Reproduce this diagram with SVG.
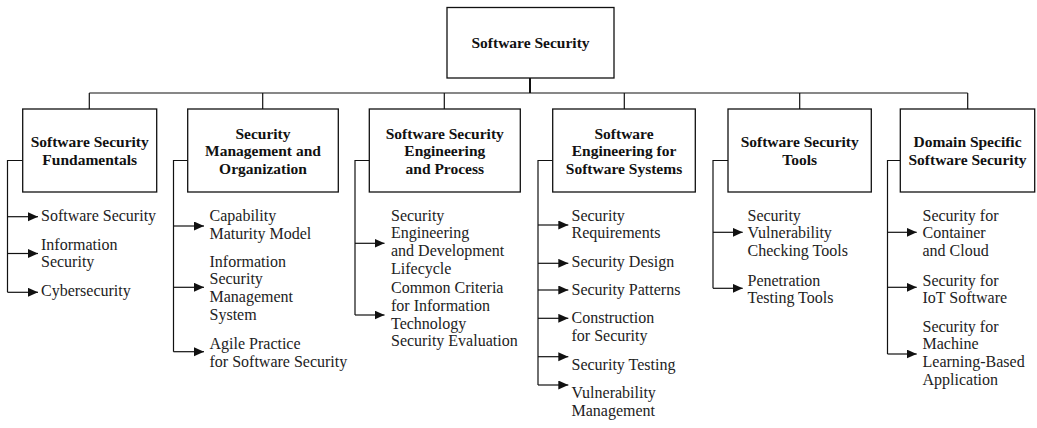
<svg xmlns="http://www.w3.org/2000/svg" width="1037" height="428" viewBox="0 0 1037 428">
  <style>
    .box { fill: #ffffff; stroke: #111; stroke-width: 1.3; }
    .hd { font-family: "Liberation Serif", "Times New Roman", serif; font-weight: bold; font-size: 15.5px; fill: #111; text-anchor: middle; }
    .it { font-family: "Liberation Serif", "Times New Roman", serif; font-size: 16px; fill: #222; }
    .ln { fill: none; stroke: #111; stroke-width: 1.2; }
    .ar { fill: none; stroke: #111; stroke-width: 1.2; marker-end: url(#arr); }
  </style>
  <defs>
    <marker id="arr" markerUnits="userSpaceOnUse" markerWidth="11" markerHeight="10" refX="10" refY="4.5" orient="auto">
      <path d="M0,0 L10,4.5 L0,9 Z" fill="#111"/>
    </marker>
  </defs>
  <rect width="1037" height="428" fill="#ffffff"/>

  <g id="connectors">
    <line x1="530" y1="78" x2="530" y2="93" class="ln" style="stroke-width:2"/>
    <line x1="89.3" y1="93" x2="967.7" y2="93" class="ln"/>
    <line x1="89.3" y1="93" x2="89.3" y2="109" class="ln"/>
    <line x1="262.7" y1="93" x2="262.7" y2="109" class="ln"/>
    <line x1="444.3" y1="93" x2="444.3" y2="109" class="ln"/>
    <line x1="624.3" y1="93" x2="624.3" y2="109" class="ln"/>
    <line x1="799.7" y1="93" x2="799.7" y2="109" class="ln"/>
    <line x1="967.7" y1="93" x2="967.7" y2="109" class="ln"/>

    <!-- column 1 -->
    <polyline points="22.7,160.5 7.5,160.5 7.5,292.3" class="ln"/>
    <line x1="7.5" y1="216.7" x2="38" y2="216.7" class="ar"/>
    <line x1="7.5" y1="253.5" x2="38" y2="253.5" class="ar"/>
    <line x1="7.5" y1="292.3" x2="38" y2="292.3" class="ar"/>

    <!-- column 2 -->
    <polyline points="187.7,160.5 173.5,160.5 173.5,351.7" class="ln"/>
    <line x1="173.5" y1="226" x2="204" y2="226" class="ar"/>
    <line x1="173.5" y1="287.3" x2="204" y2="287.3" class="ar"/>
    <line x1="173.5" y1="351.7" x2="204" y2="351.7" class="ar"/>

    <!-- column 3 -->
    <polyline points="369.3,160.5 355,160.5 355,315" class="ln"/>
    <line x1="355" y1="243.3" x2="384.5" y2="243.3" class="ar"/>
    <line x1="355" y1="315" x2="384.5" y2="315" class="ar"/>

    <!-- column 4 -->
    <polyline points="552.7,160.5 538,160.5 538,385" class="ln"/>
    <line x1="538" y1="225" x2="568.3" y2="225" class="ar"/>
    <line x1="538" y1="263.3" x2="568.3" y2="263.3" class="ar"/>
    <line x1="538" y1="290" x2="568.3" y2="290" class="ar"/>
    <line x1="538" y1="318.3" x2="568.3" y2="318.3" class="ar"/>
    <line x1="538" y1="356.7" x2="568.3" y2="356.7" class="ar"/>
    <line x1="538" y1="385" x2="568.3" y2="385" class="ar"/>

    <!-- column 5 -->
    <polyline points="728,160.5 713,160.5 713,288.3" class="ln"/>
    <line x1="713" y1="232.3" x2="742.7" y2="232.3" class="ar"/>
    <line x1="713" y1="288.3" x2="742.7" y2="288.3" class="ar"/>

    <!-- column 6 -->
    <polyline points="900.3,160.5 887.5,160.5 887.5,354" class="ln"/>
    <line x1="887.5" y1="232.3" x2="916.7" y2="232.3" class="ar"/>
    <line x1="887.5" y1="287.3" x2="916.7" y2="287.3" class="ar"/>
    <line x1="887.5" y1="354" x2="916.7" y2="354" class="ar"/>
  </g>

  <g id="root">
    <rect x="447" y="7.5" width="167" height="70.5" class="box"/>
    <text x="530.5" y="47.5" class="hd">Software Security</text>
  </g>

  <g id="fundamentals">
    <rect x="22.7" y="109" width="134" height="83" class="box"/>
    <text class="hd"><tspan x="89.7" y="147.3">Software Security</tspan><tspan x="89.7" y="164.8">Fundamentals</tspan></text>
  </g>
  <g id="fundamentals-items">
    <text class="it" x="41" y="221">Software Security</text>
    <text class="it"><tspan x="41" y="249.5">Information</tspan><tspan x="41" y="267.2">Security</tspan></text>
    <text class="it" x="41" y="296">Cybersecurity</text>
  </g>

  <g id="management">
    <rect x="187.7" y="109" width="150.6" height="83" class="box"/>
    <text class="hd"><tspan x="263" y="138.5">Security</tspan><tspan x="263" y="156">Management and</tspan><tspan x="263" y="173.5">Organization</tspan></text>
  </g>
  <g id="management-items">
    <text class="it"><tspan x="209.5" y="220.7">Capability</tspan><tspan x="209.5" y="238.5">Maturity Model</tspan></text>
    <text class="it"><tspan x="209.5" y="266.7">Information</tspan><tspan x="209.5" y="284.4">Security</tspan><tspan x="209.5" y="302.1">Management</tspan><tspan x="209.5" y="319.8">System</tspan></text>
    <text class="it"><tspan x="209.5" y="349.3">Agile Practice</tspan><tspan x="209.5" y="367">for Software Security</tspan></text>
  </g>

  <g id="engineering-process">
    <rect x="369.3" y="109" width="151" height="83" class="box"/>
    <text class="hd"><tspan x="444.8" y="138.5">Software Security</tspan><tspan x="444.8" y="156">Engineering</tspan><tspan x="444.8" y="173.5">and Process</tspan></text>
  </g>
  <g id="engineering-process-items">
    <text class="it"><tspan x="391" y="220.7">Security</tspan><tspan x="391" y="238.4">Engineering</tspan><tspan x="391" y="256.1">and Development</tspan><tspan x="391" y="273.8">Lifecycle</tspan></text>
    <text class="it"><tspan x="391" y="293.3">Common Criteria</tspan><tspan x="391" y="311">for Information</tspan><tspan x="391" y="328.7">Technology</tspan><tspan x="391" y="346.4">Security Evaluation</tspan></text>
  </g>

  <g id="software-systems">
    <rect x="552.7" y="109" width="142.6" height="83" class="box"/>
    <text class="hd"><tspan x="624" y="138.5">Software</tspan><tspan x="624" y="156">Engineering for</tspan><tspan x="624" y="173.5">Software Systems</tspan></text>
  </g>
  <g id="software-systems-items">
    <text class="it"><tspan x="571.5" y="220.5">Security</tspan><tspan x="571.5" y="238.2">Requirements</tspan></text>
    <text class="it" x="571.5" y="266.7">Security Design</text>
    <text class="it" x="571.5" y="295">Security Patterns</text>
    <text class="it"><tspan x="571.5" y="323.3">Construction</tspan><tspan x="571.5" y="341">for Security</tspan></text>
    <text class="it" x="571.5" y="370">Security Testing</text>
    <text class="it"><tspan x="571.5" y="398.3">Vulnerability</tspan><tspan x="571.5" y="416">Management</tspan></text>
  </g>

  <g id="tools">
    <rect x="728" y="109" width="143.3" height="83" class="box"/>
    <text class="hd"><tspan x="799.7" y="147.3">Software Security</tspan><tspan x="799.7" y="164.8">Tools</tspan></text>
  </g>
  <g id="tools-items">
    <text class="it"><tspan x="747.5" y="220.7">Security</tspan><tspan x="747.5" y="238.4">Vulnerability</tspan><tspan x="747.5" y="256.1">Checking Tools</tspan></text>
    <text class="it"><tspan x="747.5" y="285.7">Penetration</tspan><tspan x="747.5" y="303.4">Testing Tools</tspan></text>
  </g>

  <g id="domain-specific">
    <rect x="900.3" y="109" width="134.4" height="83" class="box"/>
    <text class="hd"><tspan x="967.5" y="147.3">Domain Specific</tspan><tspan x="967.5" y="164.8">Software Security</tspan></text>
  </g>
  <g id="domain-specific-items">
    <text class="it"><tspan x="922.5" y="220.7">Security for</tspan><tspan x="922.5" y="238.4">Container</tspan><tspan x="922.5" y="256.1">and Cloud</tspan></text>
    <text class="it"><tspan x="922.5" y="285.7">Security for</tspan><tspan x="922.5" y="303.4">IoT Software</tspan></text>
    <text class="it"><tspan x="922.5" y="331.7">Security for</tspan><tspan x="922.5" y="349.4">Machine</tspan><tspan x="922.5" y="367.1">Learning-Based</tspan><tspan x="922.5" y="384.8">Application</tspan></text>
  </g>
</svg>
